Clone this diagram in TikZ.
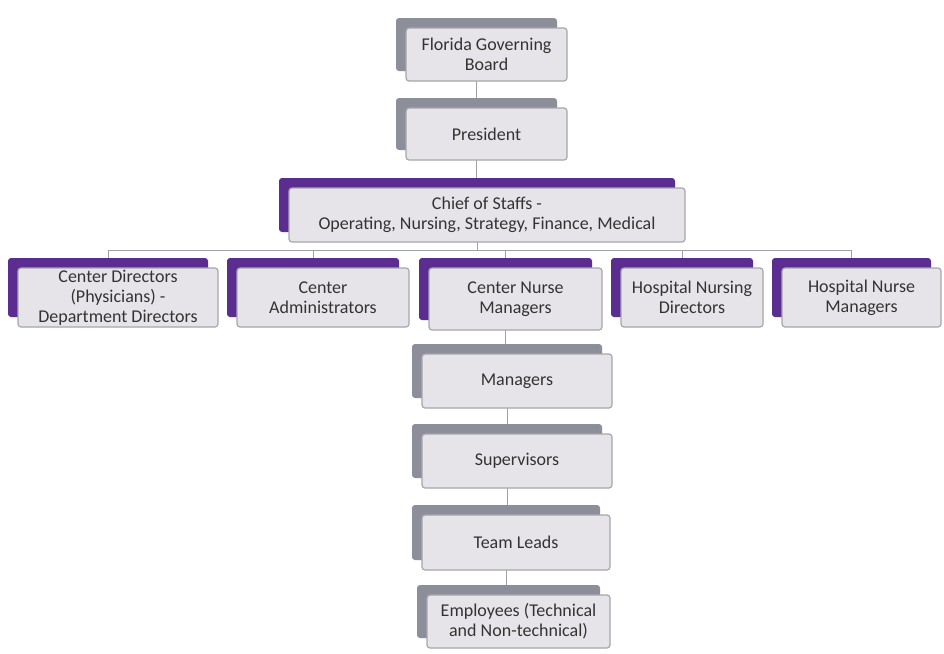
\documentclass[tikz,border=0pt]{standalone}
\usepackage{fontspec}
\setmainfont{Carlito}
\usetikzlibrary{backgrounds}
\definecolor{backgray}{HTML}{8C8F9A}
\definecolor{backpurple}{HTML}{5C2D91}
\definecolor{frontfill}{HTML}{E6E4E9}
\definecolor{frontline}{HTML}{A6A6AC}
\definecolor{txt}{HTML}{333333}
\definecolor{conn}{HTML}{9EA2A6}
\tikzset{
  backbox/.style={rounded corners=3pt, inner sep=0pt},
  frontbox/.style={rounded corners=3pt, fill=frontfill, draw=frontline, line width=1.2pt,
    inner sep=0pt, align=center, text=txt, font=\fontsize{18}{20}\selectfont},
  connector/.style={draw=conn, line width=1pt}
}
\newcommand\orgbox[7]{%
  \node[backbox, fill=#2, minimum width=#5pt, minimum height=#6pt] (#1b) at (#3-10,#4-10) {};
  \node[frontbox, minimum width=#5pt, minimum height=#6pt] (#1) at (#3,#4) {#7};
}
\begin{document}
\begin{tikzpicture}[x=1pt,y=-1pt]
\useasboundingbox (0,0) rectangle (944,653);
\orgbox{board}{backgray}{486.5}{54.5}{161}{53}{Florida Governing\\Board}
\orgbox{pres}{backgray}{486.5}{134}{161}{52}{President}
\orgbox{chief}{backpurple}{487}{215}{396}{54}{Chief of Staffs -\\Operating, Nursing, Strategy, Finance, Medical}
\orgbox{cdir}{backpurple}{118}{297.5}{200}{59}{Center Directors\\(Physicians) -\\Department Directors}
\orgbox{cadm}{backpurple}{323}{297.5}{172}{59}{Center\\Administrators}
\orgbox{cnm}{backpurple}{515.5}{299}{173}{62}{Center Nurse\\Managers}
\orgbox{hnd}{backpurple}{692}{297.5}{142}{59}{Hospital Nursing\\Directors}
\orgbox{hnm}{backpurple}{861.5}{297.5}{159}{59}{Hospital Nurse\\Managers}
\orgbox{mgr}{backgray}{517}{381}{190}{54}{Managers}
\orgbox{sup}{backgray}{517}{461}{190}{54}{Supervisors}
\orgbox{tl}{backgray}{516}{542.5}{188}{55}{Team Leads}
\orgbox{emp}{backgray}{518.5}{621.5}{183}{53}{Employees (Technical\\and Non-technical)}
\coordinate (bus) at (0,250);
\begin{scope}[on background layer]
\fill[white] (0,0) rectangle (944,653);
\draw[connector] (boardb.center) -- (boardb.center |- presb.center);
\draw[connector] (presb.center) -- (presb.center |- chiefb.center);
\draw[connector] (chiefb.center) -- (chiefb.center |- bus);
\draw[connector] (cdirb.center |- bus) -- (hnmb.center |- bus);
\foreach \n in {cdir,cadm,cnm,hnd,hnm}{
  \draw[connector] (\n b.center) -- (\n b.center |- bus);
}
\draw[connector] (cnmb.center) -- (cnmb.center |- mgrb.center);
\draw[connector] (mgrb.center) -- (mgrb.center |- supb.center);
\draw[connector] (supb.center) -- (supb.center |- tlb.center);
\draw[connector] (tlb.center) -- (tlb.center |- empb.center);
\end{scope}
\end{tikzpicture}
\end{document}
